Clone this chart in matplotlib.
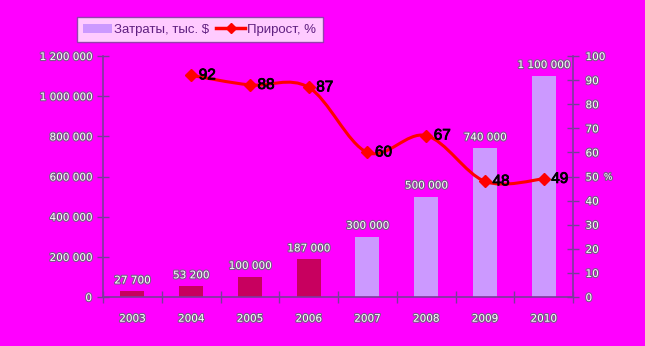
import matplotlib
matplotlib.use("Agg")
import matplotlib.pyplot as plt
import matplotlib.patheffects as pe
from matplotlib.path import Path
from matplotlib.patches import PathPatch, Patch
from matplotlib.lines import Line2D
from matplotlib.ticker import FuncFormatter
import numpy as np

years = ["2003", "2004", "2005", "2006", "2007", "2008", "2009", "2010"]
costs = [27700, 53200, 100000, 187000, 300000, 500000, 740000, 1100000]
cost_labels = ["27 700", "53 200", "100 000", "187 000", "300 000", "500 000", "740 000", "1 100 000"]
growth_years = ["2004", "2005", "2006", "2007", "2008", "2009", "2010"]
growth = [92, 88, 87, 60, 67, 48, 49]

BG = "#FF00FF"
AXIS = "#7A3A9A"
DARK_BAR = "#C8005F"
LIGHT_BAR = "#CC99FF"
LINE = "#FF0000"

tick_fx = [pe.withStroke(linewidth=1.6, foreground="#7a5a8a")]

fig = plt.figure(figsize=(6.45, 3.46), dpi=100, facecolor=BG)
ax = fig.add_axes([0.1597, 0.1416, 0.7287, 0.6965])
ax.set_facecolor(BG)
ax2 = ax.twinx()

x = np.arange(len(years))
colors = [DARK_BAR] * 4 + [LIGHT_BAR] * 4
ax.bar(x, costs, width=0.41, color=colors, zorder=2)
for xi, v, lab in zip(x, costs, cost_labels):
    ax.text(xi, v + 30000, lab, ha="center", va="bottom", fontsize=7.5,
            color="white", path_effects=tick_fx)

ax.set_xlim(-0.5, len(years) - 0.5)
ax.set_ylim(0, 1200000)
ax.set_yticks(np.arange(0, 1200001, 200000))
ax.yaxis.set_major_formatter(FuncFormatter(lambda v, p: f"{int(v):,}".replace(",", " ")))
ax.set_xticks(x)
ax.set_xticklabels(years)
ax.set_xticks(np.arange(-0.5, len(years), 1), minor=True)
ax.tick_params(axis="x", which="major", length=0, pad=12)
ax.tick_params(axis="x", which="minor", direction="inout", length=8, width=1, color=AXIS)
ax.tick_params(axis="y", direction="inout", length=8, width=1, color=AXIS, pad=4)
for lab in ax.get_xticklabels() + ax.get_yticklabels():
    lab.set_color("white")
    lab.set_fontsize(7.5)
    lab.set_path_effects(tick_fx)

for s in ["top", "right"]:
    ax.spines[s].set_visible(False)
for s in ["left", "bottom"]:
    ax.spines[s].set_color(AXIS)
    ax.spines[s].set_linewidth(1.2)
    ax.spines[s].set_zorder(5)

# smoothed growth line (Bezier through the points)
gx = np.array([years.index(y) for y in growth_years], dtype=float)
gy = np.array(growth, dtype=float)
pts = np.column_stack([gx, gy])
verts = [pts[0]]
codes = [Path.MOVETO]
for i in range(len(pts) - 1):
    p0 = pts[i - 1] if i > 0 else pts[i]
    p1, p2 = pts[i], pts[i + 1]
    p3 = pts[i + 2] if i + 2 < len(pts) else pts[i + 1]
    c1 = p1 + (p2 - p0) / 6
    c2 = p2 - (p3 - p1) / 6
    verts += [c1, c2, p2]
    codes += [Path.CURVE4] * 3
ax2.add_patch(PathPatch(Path(verts, codes), fill=False, edgecolor=LINE, lw=2.2, zorder=3))
ax2.plot(gx, gy, linestyle="none", marker="D", markersize=6, color=LINE, zorder=4)
for xi, v in zip(gx, gy):
    ax2.text(xi + 0.13, v, f"{int(v)}", ha="left", va="center", fontsize=11,
             family="Liberation Sans", color="black", zorder=5,
             path_effects=[pe.withStroke(linewidth=0.6, foreground="black")])

ax2.set_ylim(0, 100)
ax2.set_yticks(np.arange(0, 101, 10))
ax2.tick_params(axis="y", direction="inout", length=8, width=1, color=AXIS, pad=5)
for lab in ax2.get_yticklabels():
    lab.set_color("white")
    lab.set_fontsize(7.5)
    lab.set_path_effects(tick_fx)
for s in ["top", "left", "bottom"]:
    ax2.spines[s].set_visible(False)
ax2.spines["right"].set_color(AXIS)
ax2.spines["right"].set_linewidth(1.2)
fig.text(0.943, 0.488, "%", fontsize=6.5, color="white", ha="center", va="center",
         path_effects=tick_fx)

handles = [Patch(facecolor=LIGHT_BAR, edgecolor="none"),
           Line2D([0], [0], color=LINE, lw=2.5, marker="D", markersize=5)]
leg = fig.legend(handles, ["Затраты, тыс. $", "Прирост, %"], loc="upper left",
                 bbox_to_anchor=(0.119, 0.951), borderaxespad=0, ncol=2, frameon=True,
                 fancybox=False, borderpad=0.5, handlelength=2.2, handletextpad=0.15,
                 columnspacing=0.5, prop={"family": "Liberation Sans", "size": 9.5})
leg.get_frame().set_edgecolor(AXIS)
leg.get_frame().set_linewidth(1)
for t in leg.get_texts():
    t.set_color("#602080")

fig.savefig("out.png", dpi=100, facecolor=BG)
